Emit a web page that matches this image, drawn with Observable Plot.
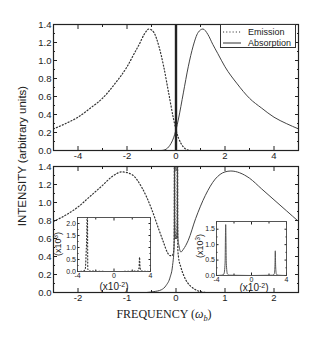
<!DOCTYPE html>
<html>
<head>
<meta charset="utf-8">
<script src="https://cdn.jsdelivr.net/npm/d3@7"></script>
<script src="https://cdn.jsdelivr.net/npm/@observablehq/plot@0.6"></script>
<style>
  body { margin: 0; background: #fff; }
  #wrap { position: relative; width: 316px; height: 342px; overflow: hidden; font-family: "Liberation Sans", Arial, sans-serif; color: #222; }
  #wrap > svg, #wrap > .lbl, #wrap > .leg { position: absolute; }
  .lbl { white-space: nowrap; line-height: 1; }
  sup { font-size: 70%; vertical-align: 0; position: relative; top: -0.45em; }
</style>
</head>
<body>
<div id="wrap"></div>
<script>
// ---------- data ----------
// top panel (frequency in units of omega_b)
const topEmFreq = [-5,-4.5,-4,-3.5,-3,-2.5,-2,-1.7,-1.5,-1.3,-1.1,-0.9,-0.7,-0.5,-0.3,-0.1,0,0.1,0.2,0.3,0.4,0.5,0.6];
const topEmission = [0.24,0.30,0.37,0.47,0.58,0.74,0.93,1.08,1.18,1.29,1.35,1.31,1.16,0.93,0.64,0.35,0.23,0.14,0.08,0.04,0.015,0.004,0];
const topAbFreq = [-0.6,-0.5,-0.4,-0.3,-0.2,-0.1,0,0.1,0.3,0.5,0.7,0.9,1.1,1.3,1.5,1.7,2,2.5,3,3.5,4,4.5,5];
const topAbsorption = [0,0.004,0.015,0.04,0.08,0.14,0.23,0.35,0.64,0.93,1.16,1.31,1.35,1.29,1.18,1.08,0.93,0.74,0.58,0.47,0.37,0.30,0.24];
const topPeakFreq = [0];

// bottom panel
const botEmFreq = [-2.5,-2.25,-2,-1.75,-1.5,-1.3,-1.1,-0.9,-0.7,-0.5,-0.35,-0.25,-0.18,-0.12,-0.08,-0.05,-0.036,-0.03,-0.024,-0.01,0.01,0.024,0.03,0.036,0.05,0.1,0.15,0.2,0.3,0.4,0.5,0.6];
const botEmission = [0.79,0.86,0.95,1.07,1.19,1.29,1.34,1.31,1.17,0.93,0.70,0.55,0.45,0.41,0.41,0.45,0.6,3,0.7,0.6,0.6,0.7,3,0.5,0.4,0.28,0.2,0.14,0.07,0.03,0.01,0];
const botAbFreq = [-0.6,-0.45,-0.3,-0.2,-0.12,-0.07,-0.04,-0.033,-0.03,-0.027,-0.015,0,0.015,0.027,0.03,0.033,0.04,0.06,0.1,0.15,0.25,0.4,0.6,0.8,1.0,1.12,1.3,1.5,1.75,2.0,2.25,2.5];
const botAbsorption = [0,0.01,0.03,0.08,0.17,0.3,0.5,0.8,3,0.8,0.6,0.6,0.6,0.8,3,0.8,0.6,0.52,0.45,0.48,0.58,0.82,1.08,1.26,1.34,1.35,1.33,1.27,1.15,1.03,0.91,0.79];

// insets (frequency x10^-2, intensity x10^3)
const inEmFreq = [-4,-3.4,-3.15,-3.05,-2.97,-2.93,-2.9,-2.87,-2.7,0,2.6,2.74,2.8,2.86,3.0,4];
const inEmission = [0,0.01,0.1,0.8,1.8,3,2.0,0.1,0.02,0,0.02,0.15,0.6,0.15,0.02,0];
const inAbFreq = [-4,-3.4,-3.15,-3.02,-2.95,-2.88,-2.75,-2.5,0,2.4,2.6,2.68,2.72,2.76,2.84,3.0,4];
const inAbsorption = [0,0.01,0.05,0.4,1.65,0.4,0.05,0.01,0,0.01,0.05,0.3,0.8,0.3,0.05,0.01,0];

// ticks
const topXMajor = [-4,-2,0,2,4], topXMinor = [-5,-3,-1,1,3,5];
const botXMajor = [-2,-1,0,1,2], botXMinor = [-2.5,-1.5,-0.5,0.5,1.5,2.5];
const mainYMajor = [0,0.2,0.4,0.6,0.8,1.0,1.2,1.4], mainYMinor = [0.1,0.3,0.5,0.7,0.9,1.1,1.3];
const inXMajor = [-4,0,4], inXMinor = [-2,2];
const inLYMajor = [0,0.5,1.0,1.5,2.0], inLYMinor = [0.25,0.75,1.25,1.75];
const inRYMajor = [0,0.5,1.0,1.5], inRYMinor = [0.25,0.75,1.25];

// ---------- helpers ----------
const rows = (xs, ys) => xs.map((x, i) => ({x, y: ys[i]}));
const fmt1 = d => d.toFixed(1);
const fmtInt = d => String(d);
const INK = "#222";
const dotted = {stroke: "#333", strokeWidth: 1.2, strokeDasharray: "1.1,2.1", curve: "monotone-x", clip: true};
const solid = {stroke: "#444", strokeWidth: 1, curve: "monotone-x", clip: true};

function frameAxes({xMajor, xMinor, yMajor, yMinor, xFmt, yFmt, major, minor, pad}) {
  const m = [];
  for (const anchor of ["bottom", "top"]) {
    m.push(Plot.axisX(xMajor, {anchor, tickSize: -major, fill: "none", stroke: INK, label: null}));
    m.push(Plot.axisX(xMinor, {anchor, tickSize: -minor, fill: "none", stroke: INK, label: null}));
  }
  for (const anchor of ["left", "right"]) {
    m.push(Plot.axisY(yMajor, {anchor, tickSize: -major, fill: "none", stroke: INK, label: null}));
    m.push(Plot.axisY(yMinor, {anchor, tickSize: -minor, fill: "none", stroke: INK, label: null}));
  }
  m.push(Plot.axisX(xMajor, {anchor: "bottom", tickSize: 0, tickPadding: pad, tickFormat: xFmt, label: null, fill: INK}));
  m.push(Plot.axisY(yMajor, {anchor: "left", tickSize: 0, tickPadding: pad, tickFormat: yFmt, label: null, fill: INK}));
  return m;
}

const wrap = document.getElementById("wrap");
function place(el, left, top) { el.style.left = left + "px"; el.style.top = top + "px"; wrap.appendChild(el); return el; }
function label(html, left, top, css) {
  const d = document.createElement("div");
  d.className = "lbl"; d.innerHTML = html;
  Object.assign(d.style, css || {});
  return place(d, left, top);
}

// ---------- top panel ----------
const topPlot = Plot.plot({
  width: 316, height: 166,
  marginTop: 24, marginBottom: 16, marginLeft: 53, marginRight: 18,
  x: {domain: [-5, 5]}, y: {domain: [0, 1.4]},
  style: {fontFamily: "'Liberation Sans', Arial, sans-serif", fontSize: "9.5px", background: "transparent", overflow: "visible"},
  marks: [
    Plot.line(rows(topEmFreq, topEmission), {x: "x", y: "y", ...dotted}),
    Plot.line(rows(topAbFreq, topAbsorption), {x: "x", y: "y", ...solid}),
    Plot.ruleX(topPeakFreq, {stroke: INK, strokeWidth: 2.4}),
    ...frameAxes({xMajor: topXMajor, xMinor: topXMinor, yMajor: mainYMajor, yMinor: mainYMinor, xFmt: fmtInt, yFmt: fmt1, major: 4, minor: 2, pad: 2}),
    Plot.frame({stroke: INK, strokeWidth: 1.2})
  ]
});
place(topPlot, 0, 0);

// ---------- bottom panel ----------
const botPlot = Plot.plot({
  width: 316, height: 152,
  marginTop: 6, marginBottom: 20, marginLeft: 53, marginRight: 18,
  x: {domain: [-2.5, 2.5]}, y: {domain: [0, 1.4]},
  style: {fontFamily: "'Liberation Sans', Arial, sans-serif", fontSize: "9.5px", background: "transparent", overflow: "visible"},
  marks: [
    Plot.line(rows(botEmFreq, botEmission), {x: "x", y: "y", ...dotted}),
    Plot.line(rows(botAbFreq, botAbsorption), {x: "x", y: "y", ...solid}),
    ...frameAxes({xMajor: botXMajor, xMinor: botXMinor, yMajor: mainYMajor, yMinor: mainYMinor, xFmt: fmtInt, yFmt: fmt1, major: 4, minor: 2, pad: 2}),
    Plot.frame({stroke: INK, strokeWidth: 1.2})
  ]
});
place(botPlot, 0, 160);

// ---------- insets ----------
function inset(xsData, ysData, style, yDomain, yMajor, yMinor, w) {
  return Plot.plot({
    width: w, height: 74,
    marginTop: 5, marginBottom: 15, marginLeft: 22, marginRight: 5,
    x: {domain: [-4, 4]}, y: {domain: yDomain},
    style: {fontFamily: "'Liberation Sans', Arial, sans-serif", fontSize: "7px", background: "transparent", overflow: "visible"},
    marks: [
      Plot.frame({fill: "white", stroke: "none"}),
      Plot.line(rows(xsData, ysData), {x: "x", y: "y", ...style}),
      ...frameAxes({xMajor: inXMajor, xMinor: inXMinor, yMajor, yMinor, xFmt: fmtInt, yFmt: fmt1, major: 2.5, minor: 1.5, pad: 1.5}),
      Plot.frame({stroke: "#444", strokeWidth: 0.9})
    ]
  });
}
const leftInset = inset(inEmFreq, inEmission, {...dotted, strokeWidth: 1.1}, [0, 2.25], inLYMajor, inLYMinor, 100);
place(leftInset, 55, 212);
const rightInset = inset(inAbFreq, inAbsorption, {...solid, stroke: "#555"}, [0, 1.75], inRYMajor, inRYMinor, 97);
place(rightInset, 194, 216);

// inset axis labels
label("(x10<sup>3</sup>)", 58, 244, {fontSize: "9px", transform: "translate(-50%,-50%) rotate(-90deg)"});
label("(x10<sup>-2</sup>)", 114, 287, {fontSize: "10px", transform: "translate(-50%,-50%)"});
label("(x10<sup>3</sup>)", 200, 246, {fontSize: "9px", transform: "translate(-50%,-50%) rotate(-90deg)"});
label("(x10<sup>-2</sup>)", 254, 288, {fontSize: "10px", transform: "translate(-50%,-50%)"});

// axis titles
label("INTENSITY (arbitrary units)", 23, 156, {fontSize: "11.5px", transform: "translate(-50%,-50%) rotate(-90deg)"});
label("FREQUENCY (<i>&omega;</i><sub style='font-size:70%'><i>b</i></sub>)", 164, 316,
      {fontFamily: "'Liberation Serif', 'Times New Roman', serif", fontSize: "12px", transform: "translate(-50%,-50%)"});

// legend
const leg = document.createElement("div");
leg.className = "leg";
Object.assign(leg.style, {width: "76px", height: "24px", border: "1px solid #333", background: "#fff", boxSizing: "border-box", fontSize: "9px"});
const legItems = [["Emission", "1.1,2.1"], ["Absorption", null]];
leg.innerHTML = legItems.map(([name, dash], i) =>
  `<div style="position:absolute;left:2px;top:${2 + i * 11}px;height:10px;display:flex;align-items:center;">
     <svg width="20" height="10" style="display:block"><line x1="0" x2="18" y1="5" y2="5" stroke="#333" stroke-width="1" ${dash ? `stroke-dasharray="${dash}"` : ""}/></svg>
     <span style="margin-left:5px">${name}</span></div>`).join("");
place(leg, 220, 24);
</script>
</body>
</html>
